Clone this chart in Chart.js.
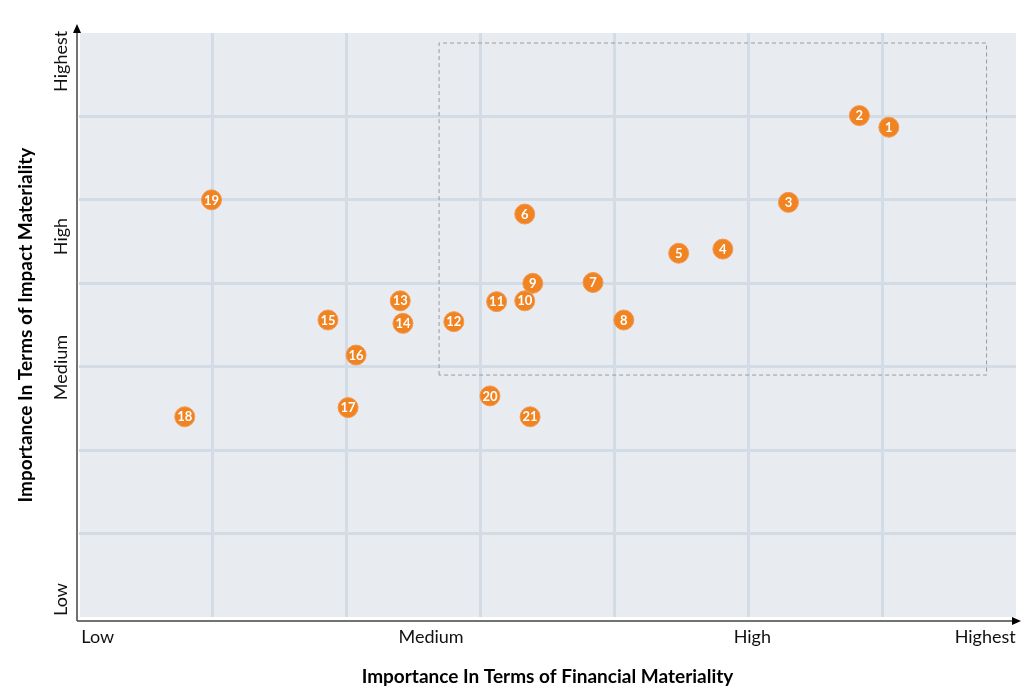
<!DOCTYPE html>
<html>
<head>
<meta charset="utf-8">
<script src="https://cdn.jsdelivr.net/npm/chart.js@4"></script>
<style>
  html, body { margin: 0; padding: 0; background: #fff; }
  #wrap { width: 1024px; height: 691px; position: relative; }
</style>
</head>
<body>
<div id="wrap"><canvas id="matrixChart"></canvas></div>
<script>
// topic numbers and where they sit on the matrix (0 = low edge, 7 = top edge)
const topicIds = [1, 2, 3, 4, 5, 6, 7, 8, 9, 10, 11, 12, 13, 14, 15, 16, 17, 18, 19, 20, 21];
const financial = [6.05, 5.83, 5.30, 4.81, 4.48, 3.33, 3.84, 4.07, 3.39, 3.33, 3.12, 2.80, 2.40, 2.42, 1.86, 2.07, 2.01, 0.79, 0.99, 3.07, 3.37];
const impact = [5.87, 6.01, 4.97, 4.41, 4.36, 4.83, 4.01, 3.56, 4.00, 3.79, 3.78, 3.54, 3.79, 3.52, 3.56, 3.14, 2.51, 2.40, 5.00, 2.65, 2.40];

// dashed focus box corners
const zoneX = [2.69, 2.69, 6.78, 6.78, 2.69];
const zoneY = [2.90, 6.88, 6.88, 2.90, 2.90];

// axis words and where they are placed
const xTickLabels = ['Low', 'Medium', 'High', 'Highest'];
const xTickValues = [0.14, 2.63, 5.03, 6.77];
const yTickLabels = ['Low', 'Medium', 'High', 'Highest'];
const yTickValues = [0.21, 2.99, 4.56, 6.66];

const gridColor = '#d3dbe4';
const dotColor = '#f08322';
const fontFamily = 'Lato, "Open Sans", sans-serif';

const plotBackground = {
    id: 'plotBackground',
    beforeDraw(chart) {
        const { ctx, chartArea: a } = chart;
        ctx.save();
        ctx.fillStyle = '#e8ebf0';
        ctx.fillRect(a.left + 1, a.top, a.right - a.left - 1, a.bottom - a.top);
        ctx.restore();
    }
};

const axisArrows = {
    id: 'axisArrows',
    afterDraw(chart) {
        const { ctx, chartArea: a } = chart;
        const ox = a.left - 2;
        const oy = a.bottom + 4;
        ctx.save();
        ctx.strokeStyle = '#444';
        ctx.fillStyle = '#000';
        ctx.lineWidth = 1.5;
        ctx.beginPath();
        ctx.moveTo(ox, oy);
        ctx.lineTo(ox, a.top - 2);
        ctx.moveTo(ox, oy);
        ctx.lineTo(a.right + 1, oy);
        ctx.stroke();
        // up arrow
        ctx.beginPath();
        ctx.moveTo(ox, a.top - 9);
        ctx.lineTo(ox - 4, a.top);
        ctx.lineTo(ox + 4, a.top);
        ctx.closePath();
        ctx.fill();
        // right arrow
        ctx.beginPath();
        ctx.moveTo(a.right + 5, oy);
        ctx.lineTo(a.right - 4, oy - 4);
        ctx.lineTo(a.right - 4, oy + 4);
        ctx.closePath();
        ctx.fill();
        ctx.restore();
    }
};

const dotNumbers = {
    id: 'dotNumbers',
    afterDatasetsDraw(chart) {
        const { ctx } = chart;
        const meta = chart.getDatasetMeta(1);
        ctx.save();
        ctx.fillStyle = '#fff';
        ctx.font = 'bold 13px ' + fontFamily;
        ctx.textAlign = 'center';
        ctx.textBaseline = 'middle';
        meta.data.forEach((pt, i) => {
            ctx.fillText(String(topicIds[i]), pt.x, pt.y + 0.5);
        });
        ctx.restore();
    }
};

const hideEdges = (c) => (c.tick.value <= 0 || c.tick.value >= 7) ? 'rgba(0,0,0,0)' : gridColor;

new Chart(document.getElementById('matrixChart'), {
    type: 'scatter',
    data: {
        datasets: [{
            type: 'line',
            label: 'zone',
            data: zoneX.map((x, i) => ({ x: x, y: zoneY[i] })),
            borderColor: '#9b9b9b',
            borderWidth: 1,
            borderDash: [4, 3],
            pointRadius: 0,
            fill: false,
            tension: 0
        }, {
            label: 'Topics',
            data: financial.map((x, i) => ({ x: x, y: impact[i] })),
            backgroundColor: dotColor,
            borderColor: '#f39a52',
            borderWidth: 1,
            pointRadius: 10,
            pointHoverRadius: 10
        }]
    },
    options: {
        responsive: true,
        maintainAspectRatio: false,
        animation: false,
        layout: { autoPadding: false, padding: { left: 0, right: 8, top: 33, bottom: 0 } },
        plugins: {
            legend: { display: false },
            tooltip: { enabled: false }
        },
        scales: {
            x: {
                type: 'linear', position: 'bottom', min: 0, max: 7,
                ticks: { display: false, stepSize: 1 },
                grid: { color: hideEdges, lineWidth: 3, drawTicks: false },
                border: { display: false },
                afterFit: (s) => { s.height = 0; }
            },
            xl: {
                type: 'linear', position: 'bottom', min: 0, max: 7,
                grid: { display: false, drawTicks: false },
                border: { display: false },
                afterBuildTicks: (s) => { s.ticks = xTickValues.map(v => ({ value: v })); },
                ticks: {
                    padding: 9,
                    color: '#111',
                    font: { family: fontFamily, size: 18 },
                    maxRotation: 0, minRotation: 0,
                    autoSkip: false,
                    callback: (v, i) => xTickLabels[i]
                },
                title: {
                    display: true,
                    text: 'Importance In Terms of Financial Materiality',
                    color: '#000',
                    font: { family: fontFamily, size: 19, weight: 'bold' },
                    padding: { top: 0, bottom: 3 }
                },
                afterFit: (s) => { s.height = 74; s.paddingLeft = 0; s.paddingRight = 0; }
            },
            y: {
                type: 'linear', position: 'left', min: 0, max: 7,
                ticks: { display: false, stepSize: 1 },
                grid: { color: hideEdges, lineWidth: 3, drawTicks: false },
                border: { display: false },
                afterFit: (s) => { s.width = 0; }
            },
            yl: {
                type: 'linear', position: 'left', min: 0, max: 7,
                grid: { display: false, drawTicks: false },
                border: { display: false },
                afterBuildTicks: (s) => { s.ticks = yTickValues.map(v => ({ value: v })); },
                ticks: {
                    padding: -15,
                    color: '#111',
                    crossAlign: 'center',
                    minRotation: 90, maxRotation: 90,
                    autoSkip: false,
                    font: { family: fontFamily, size: 18 },
                    callback: (v, i) => yTickLabels[i]
                },
                title: {
                    display: true,
                    text: 'Importance In Terms of Impact Materiality',
                    color: '#000',
                    font: { family: fontFamily, size: 19, weight: 'bold' },
                    padding: { top: 14, bottom: 0 }
                },
                afterFit: (s) => { s.width = 79; s.paddingTop = 0; s.paddingBottom = 0; }
            }
        }
    },
    plugins: [plotBackground, axisArrows, dotNumbers]
});
</script>
</body>
</html>
